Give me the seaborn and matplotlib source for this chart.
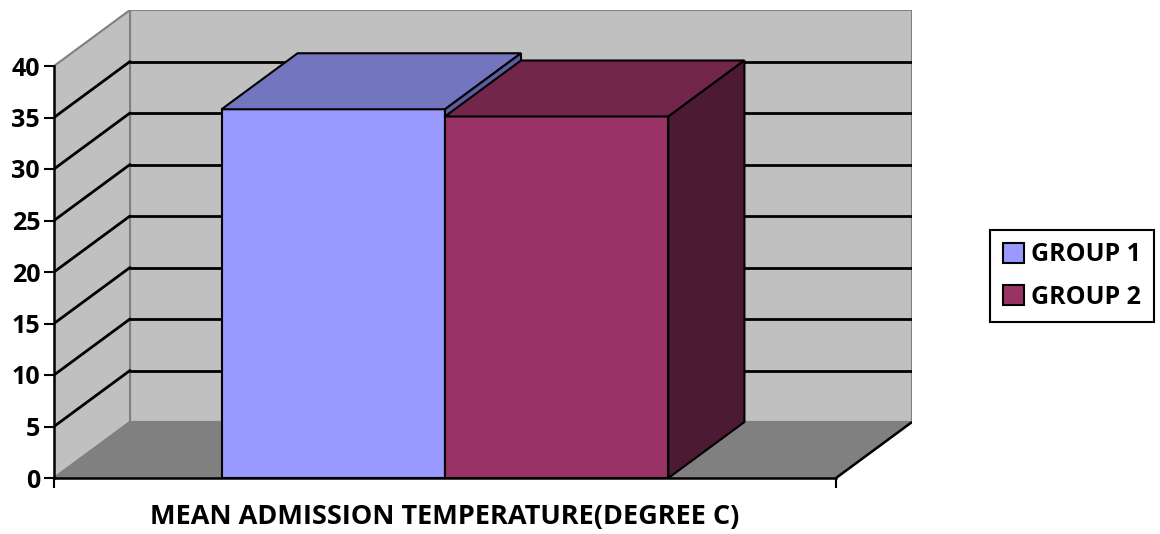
import numpy as np
import pandas as pd
import matplotlib
matplotlib.use("Agg")
import matplotlib.pyplot as plt
import seaborn as sns
from matplotlib.patches import Polygon, Rectangle

# ---- data ----
categories = ["MEAN ADMISSION TEMPERATURE(DEGREE C)"]
groups = ["GROUP 1", "GROUP 2"]
values = [35.8, 35.1]
y_ticks = [0, 5, 10, 15, 20, 25, 30, 35, 40]

# ---- style ----
front_colors = ["#9999FF", "#993366"]
top_colors = ["#7375BE", "#72264C"]
side_colors = ["#5B5D9C", "#4C1A33"]
wall_color = "#C0C0C0"
floor_color = "#808080"
depth_px = (76, 56)       # 3D depth offset in pixels

sns.set_theme(style="white")
plt.rcParams['font.family'] = ['Open Sans', 'DejaVu Sans']
plt.rcParams['font.weight'] = 'bold'
plt.rcParams['text.color'] = 'black'

df = pd.DataFrame({"category": categories * len(groups),
                   "group": groups, "value": values})

W, H = 1160, 534
fig = plt.figure(figsize=(W / 100, H / 100), dpi=100)
fig.patch.set_facecolor("white")
ax_left, ax_right, ax_bottom, ax_top = 54, 912, 56, 524
ax = fig.add_axes([ax_left / W, ax_bottom / H, (ax_right - ax_left) / W, (ax_top - ax_bottom) / H])
ax.set_facecolor("none")

sns.barplot(data=df, x="category", y="value", hue="group", palette=front_colors,
            width=0.8, saturation=1, edgecolor="black", linewidth=1.5,
            legend=False, ax=ax)

# front plane limits (data coords)
x0, x1 = -0.70, 0.70
ymax = y_ticks[-1]
front_w_px = (ax_right - ax_left) - depth_px[0]
front_h_px = (ax_top - ax_bottom) - depth_px[1]
ppu_x = front_w_px / (x1 - x0)
ppu_y = front_h_px / ymax
dx = depth_px[0] / ppu_x
dy = depth_px[1] / ppu_y
ax.set_xlim(x0, x1 + dx)
ax.set_ylim(0, ymax + dy)

# walls and floor
ax.add_patch(Rectangle((x0 + dx, dy), x1 - x0, ymax, facecolor=wall_color,
                       edgecolor=floor_color, lw=1.5, zorder=0.5))
ax.add_patch(Polygon([(x0, 0), (x0 + dx, dy), (x0 + dx, ymax + dy), (x0, ymax)],
                     closed=True, facecolor=wall_color, edgecolor=floor_color, lw=1.5, zorder=0.6))
ax.add_patch(Polygon([(x0, 0), (x1, 0), (x1 + dx, dy), (x0 + dx, dy)],
                     closed=True, facecolor=floor_color, edgecolor=floor_color, lw=1.5, zorder=0.7))
ax.plot([x1, x1 + dx], [0, dy], color="black", lw=1.8, zorder=0.8, solid_capstyle="butt")

# gridlines on back and side walls
for v in y_ticks[1:-1]:
    ax.plot([x0 + dx, x1 + dx], [v + dy, v + dy], color="black", lw=2, zorder=0.9)
    ax.plot([x0, x0 + dx], [v, v + dy], color="black", lw=2, zorder=0.9)

# 3D bar faces
for i, cont in enumerate(ax.containers):
    for bar in cont:
        xl, w, h = bar.get_x(), bar.get_width(), bar.get_height()
        z = 3 + 2 * i
        bar.set_zorder(z)
        ax.add_patch(Polygon([(xl, h), (xl + w, h), (xl + w + dx, h + dy), (xl + dx, h + dy)],
                             closed=True, facecolor=top_colors[i], edgecolor="black",
                             lw=1.5, zorder=z + 0.5, joinstyle="miter"))
        ax.add_patch(Polygon([(xl + w, 0), (xl + w + dx, dy), (xl + w + dx, h + dy), (xl + w, h)],
                             closed=True, facecolor=side_colors[i], edgecolor="black",
                             lw=1.5, zorder=z + 0.5, joinstyle="miter"))

# spines / axes
for s in ["top", "right"]:
    ax.spines[s].set_visible(False)
ax.spines["left"].set_bounds(0, ymax)
ax.spines["bottom"].set_bounds(x0, x1)
for s in ["left", "bottom"]:
    ax.spines[s].set_color("black")
    ax.spines[s].set_linewidth(1.8)
    ax.spines[s].set_zorder(10)

ax.set_yticks(y_ticks)
ax.set_yticklabels([str(t) for t in y_ticks], fontweight="bold")
ax.tick_params(axis="y", direction="out", length=7, width=1.5, color="black",
               labelsize=18, pad=3, left=True, labelcolor="black")
ax.set_xticks([0])
ax.set_xticklabels(categories, fontweight="bold")
ax.set_xticks([x0, x1], minor=True)
ax.tick_params(axis="x", which="major", length=0, pad=19, labelsize=19.5, labelcolor="black")
ax.tick_params(axis="x", which="minor", direction="out", length=7, width=1.5,
               color="black", bottom=True)
ax.set_xlabel("")
ax.set_ylabel("")

# legend
handles = [c[0] for c in ax.containers]
leg = ax.legend(handles, groups, loc="center", bbox_to_anchor=(1072 / W, (H - 276) / H),
                bbox_transform=fig.transFigure, frameon=True, fancybox=False,
                edgecolor="black", framealpha=1, handlelength=0.85, handleheight=0.85,
                handletextpad=0.3, labelspacing=0.7, borderpad=0.5, borderaxespad=0,
                prop={"weight": "bold", "size": 18})
leg.get_frame().set_linewidth(1.5)
for t in leg.get_texts():
    t.set_color("black")

fig.savefig("out.png", dpi=100, facecolor="white")
